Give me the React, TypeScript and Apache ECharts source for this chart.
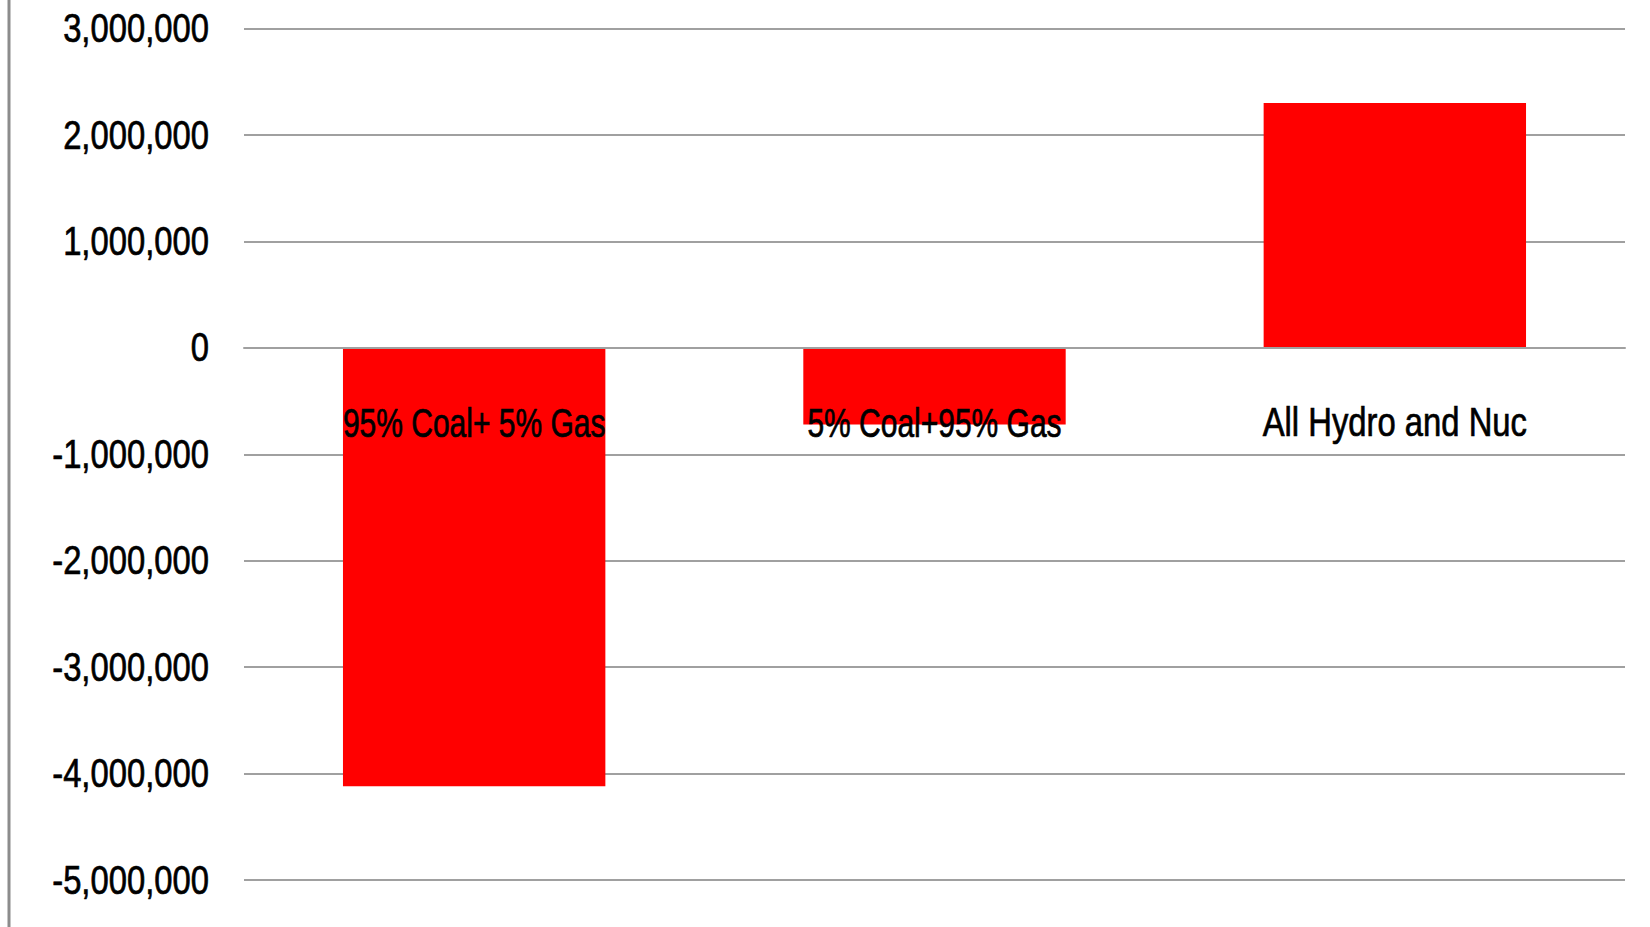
import React, { useEffect, useRef } from "react";
import * as echarts from "echarts";

const categories: string[] = ["95% Coal+ 5% Gas", "5% Coal+95% Gas", "All Hydro and Nuc"];
const values: number[] = [-4120000, -720000, 2300000];
const yTicks: number[] = [3000000, 2000000, 1000000, 0, -1000000, -2000000, -3000000, -4000000, -5000000];
const yMin = -5000000;
const yMax = 3000000;
const yStep = 1000000;

const FONT = '"Liberation Sans", Arial, sans-serif';
const NARROW = 0.82;
const CAT_NARROW = [0.75, 0.75, 0.82];

export default function App() {
  const ref = useRef<HTMLDivElement>(null);
  useEffect(() => {
    document.body.style.margin = "0";
    if (!ref.current) return;
    const chart = echarts.init(ref.current, undefined, { renderer: "svg" });
    chart.setOption({
      animation: false,
      backgroundColor: "#ffffff",
      grid: { left: 244, right: 25, top: 28.5, bottom: 47, containLabel: false },
      xAxis: {
        type: "category",
        data: categories,
        z: 10,
        axisLine: { onZero: true, lineStyle: { color: "#a0a0a0", width: 2 } },
        axisTick: { show: false },
        axisLabel: { show: false },
      },
      yAxis: {
        type: "value",
        min: yMin,
        max: yMax,
        interval: yStep,
        axisLine: { show: false },
        axisTick: { show: false },
        splitLine: { lineStyle: { color: "#a0a0a0", width: 2 } },
        axisLabel: { show: false },
      },
      series: [
        {
          type: "bar",
          data: values,
          barWidth: "57%",
          itemStyle: { color: "#ff0000" },
        },
        {
          type: "custom",
          clip: false,
          z: 10,
          silent: true,
          data: categories.map((_, i) => [i, 0]),
          renderItem: (params: any, api: any) => {
            const p = api.coord([api.value(0), 0]);
            return {
              type: "text",
              x: p[0],
              y: p[1] + 75,
              scaleX: CAT_NARROW[params.dataIndex] ?? NARROW,
              style: {
                text: categories[params.dataIndex],
                fontFamily: FONT,
                fontSize: 40,
                fill: "#000",
                stroke: "#000",
                lineWidth: 0.7,
                align: "center",
                verticalAlign: "middle",
              },
            };
          },
        },
        {
          type: "custom",
          clip: false,
          z: 10,
          silent: true,
          data: yTicks.map((v) => [0, v]),
          renderItem: (params: any, api: any) => {
            const v = api.value(1);
            const p = api.coord([0, v]);
            return {
              type: "text",
              x: 209,
              y: p[1],
              scaleX: NARROW,
              style: {
                text: Number(v).toLocaleString("en-US"),
                fontFamily: FONT,
                fontSize: 40,
                fill: "#000",
                stroke: "#000",
                lineWidth: 0.7,
                align: "right",
                verticalAlign: "middle",
              },
            };
          },
        },
      ],
      graphic: [
        {
          type: "line",
          shape: { x1: 9, y1: 0, x2: 9, y2: 927 },
          style: { stroke: "#8c8c8c", lineWidth: 3 },
        },
      ],
    });
    return () => chart.dispose();
  }, []);
  return <div ref={ref} style={{ position: "absolute", left: 0, top: 0, width: 1650, height: 927 }} />;
}
